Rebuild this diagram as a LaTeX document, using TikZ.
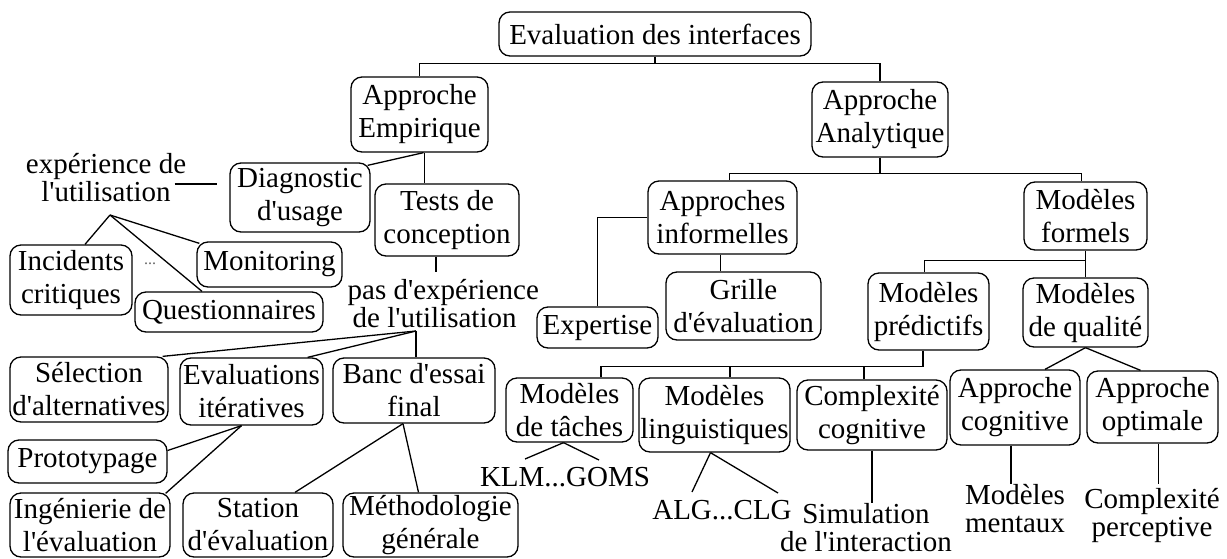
\documentclass[tikz,border=0pt]{standalone}
\usepackage{fontspec}
\setmainfont{Liberation Serif}
\newcommand\ap{\textquotesingle}
\begin{document}
\begin{tikzpicture}[x=1pt,y=-1pt,
  line width=1.3pt,
  box/.style={draw, rounded corners=11pt, align=center, inner sep=0pt,
    font=\fontsize{29}{33}\selectfont},
  sz/.style 2 args={minimum width=#1pt, minimum height=#2pt},
  lbl/.style={align=center, inner sep=0pt, font=\fontsize{29}{28}\selectfont}]
\useasboundingbox[fill=white] (0,0) rectangle (1227,558);

% boxes
\node[box, sz={312}{44}] (root) at (655,34) {Evaluation des interfaces};
\node[box, sz={137}{75}] (emp) at (419.5,114.5) {Approche\\Empirique};
\node[box, sz={136}{75}] (ana) at (880,119.5) {Approche\\Analytique};
\node[box, sz={140}{69}] (diag) at (300,197.5) {Diagnostic\\d\ap usage};
\node[box, sz={144}{72}] (tests) at (447,220) {Tests de\\conception};
\node[box, sz={149}{73}] (inf) at (722.5,217.5) {Approches\\informelles};
\node[box, sz={123}{68}] (form) at (1085.5,216) {Modèles\\formels};
\node[box, sz={122}{70}] (incid) at (71,280) {Incidents\\critiques};
\node[box, sz={145}{45}] (monit) at (269.5,264.5) {Monitoring};
\node[box, sz={188}{40}] (quest) at (229,312) {Questionnaires};
\node[box, sz={121}{41}] (expert) at (597.5,327.5) {Expertise};
\node[box, sz={155}{68}] (grille) at (743.5,306) {Grille\\d\ap évaluation};
\node[box, sz={121}{77}] (pred) at (928.5,311.5) {Modèles\\prédictifs};
\node[box, sz={125}{69}] (qual) at (1085.5,312.5) {Modèles\\de qualité};
\node[box, sz={158}{65}] (sel) at (89,389.5) {Sélection\\d\ap alternatives};
\node[box, sz={143}{67}] (iter) at (251.5,391.5) {Evaluations\\itératives};
\node[box, sz={162}{65}] (banc) at (414,390.5) {Banc d\ap essai\\final};
\node[box, sz={127}{64}] (taches) at (569.5,410) {Modèles\\de tâches};
\node[box, sz={151}{74}] (ling) at (714.5,415) {Modèles\\linguistiques};
\node[box, sz={150}{70}] (cplx) at (872,415) {Complexité\\cognitive};
\node[box, sz={130}{75}] (cogn) at (1015,407.5) {Approche\\cognitive};
\node[box, sz={131}{72}] (optim) at (1152.5,407) {Approche\\optimale};
\node[box, sz={159}{43}] (proto) at (87.5,461.5) {Prototypage};
\node[box, sz={160}{64}] (inge) at (90,525) {Ingénierie de\\l\ap évaluation};
\node[box, sz={150}{64}] (station) at (258,525) {Station\\d\ap évaluation};
\node[box, sz={175}{64}] (metho) at (430.5,525) {Méthodologie\\générale};

% free labels
\node[lbl, anchor=north] (exp) at (106,153) {expérience de\\l\ap utilisation};
\node[lbl, align=left, anchor=north west] (pas) at (347,279)
  {pas d\ap expérience\\\hspace*{5pt}de l\ap utilisation};
\node[lbl, anchor=north] (sim) at (866,503) {Simulation\\de l\ap interaction};
\node[lbl, anchor=north] (ment) at (1015,484) {Modèles\\mentaux};
\node[lbl, anchor=north] (perc) at (1152,488) {Complexité\\perceptive};
\node[lbl, anchor=north] (klm) at (565,467) {KLM...GOMS};
\node[lbl, anchor=north] (alg) at (722,500) {ALG...CLG};
\node[lbl, font=\fontsize{16}{16}\selectfont, text=black!60] (dots) at (150,264) {...};

% fork points
\coordinate (f0) at ([yshift=-7pt]root.south);
\coordinate (f1) at ([yshift=-16pt]ana.south);
\coordinate (f2) at ([yshift=-10pt]form.south);
\coordinate (f3) at ([shift={(-5.5,16)}]pred.south);
\coordinate (eu) at (110,215);
\coordinate (pu) at (416,331);

% top level
\draw (root.south) -- (f0);
\draw (f0) -| (emp.north);
\draw (f0) -| (ana.north);

% empirical branch
\draw ([xshift=5pt]emp.south) -- ([xshift=5pt]emp.south |- tests.north);
\draw ([xshift=4pt]emp.south) -- ([shift={(-3,3)}]diag.north east);
\draw ([shift={(-12,6)}]exp.east) -- ([shift={(-12,6)}]exp.east -| diag.west);
\draw (eu) -- ([xshift=14pt]incid.north);
\draw (eu) -- ([shift={(3,2)}]monit.north west);
\draw (eu) -- ([xshift=-27pt]quest.north);
\draw ([xshift=-11pt]tests.south) -- ++(0,15);
\draw (pu) -- (pu |- banc.north);
\draw (pu) -- ([xshift=-6pt]sel.north east);
\draw (pu) -- ([xshift=-16pt]iter.north east);
\draw ([xshift=-10pt]iter.south) -- ([yshift=11pt]proto.east);
\draw ([xshift=-10pt]iter.south) -- ([shift={(-5,1)}]inge.north east);
\draw ([xshift=-11pt]banc.south) -- ([xshift=37pt]station.north);
\draw ([xshift=-11pt]banc.south) -- ([xshift=-12pt]metho.north);

% analytical branch
\draw (ana.south) -- (f1);
\draw (f1) -| ([xshift=7pt]inf.north);
\draw (f1) -| ([xshift=-4pt]form.north);
\draw (inf.west) -| (expert.north);
\draw ([xshift=-2pt]inf.south) -- ([xshift=-2pt]inf.south |- grille.north);
\draw (form.south) -- (qual.north);
\draw (f2) -| ([xshift=-4pt]pred.north);
\draw ([xshift=-5.5pt]pred.south) -- (f3);
\draw (f3) -| ([xshift=31.5pt]taches.north);
\draw ([xshift=15.5pt]ling.north) -- ([xshift=15.5pt]ling.north |- f3);
\draw ([xshift=-8pt]cplx.north) -- ([xshift=-8pt]cplx.north |- f3);
\draw (qual.south) -- ([xshift=30pt]cogn.north);
\draw (qual.south) -- ([xshift=-12pt]optim.north);
\draw ([xshift=-6pt]taches.south) -- ([shift={(-40,-8)}]klm.north);
\draw ([xshift=-6pt]taches.south) -- ([shift={(34,-7)}]klm.north);
\draw ([xshift=-4pt]ling.south) -- ([shift={(-30,-8)}]alg.north);
\draw ([xshift=-4pt]ling.south) -- ([shift={(56,-7)}]alg.north);
\draw (cplx.south) -- (cplx.south |- sim.north);
\draw ([xshift=-4pt]cogn.south) -- ([xshift=-4pt]cogn.south |- ment.north);
\draw ([xshift=6pt]optim.south) -- ++(0,40);
\end{tikzpicture}
\end{document}
